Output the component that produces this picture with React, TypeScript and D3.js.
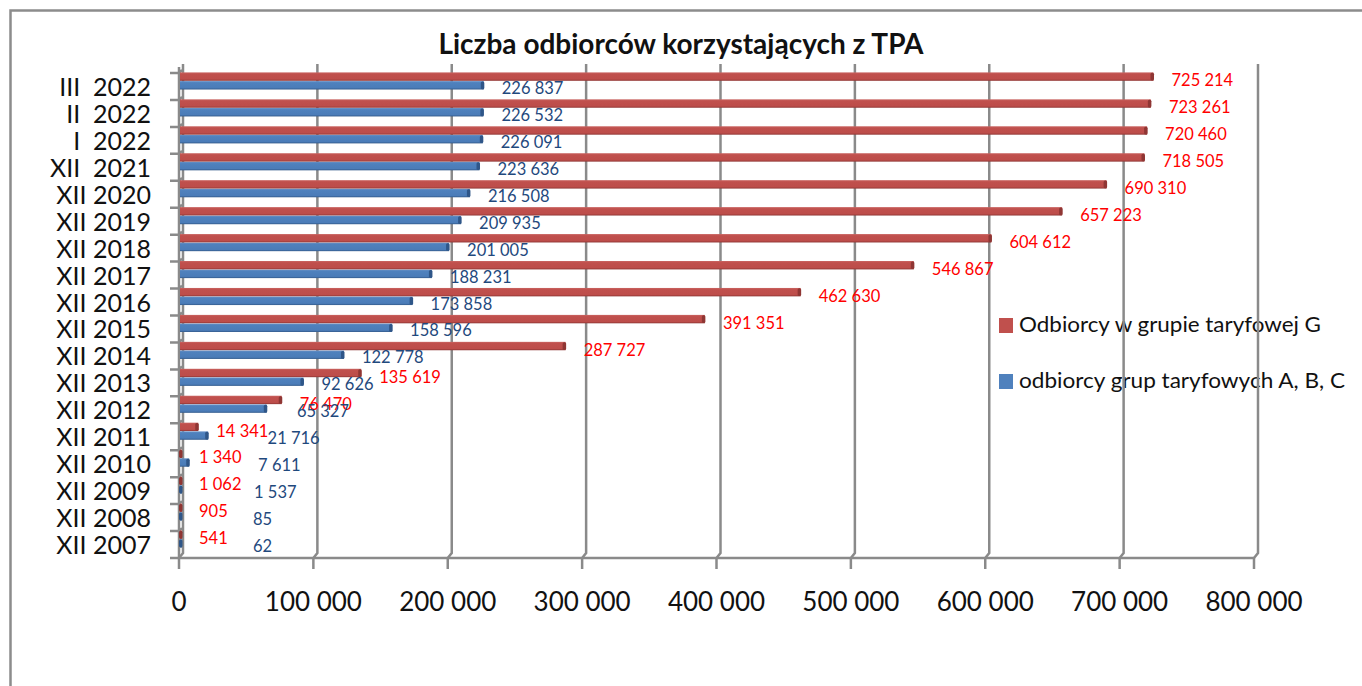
import * as d3 from 'd3';

const categories = [
  'III  2022', 'II  2022', 'I  2022', 'XII  2021', 'XII 2020', 'XII 2019',
  'XII 2018', 'XII 2017', 'XII 2016', 'XII 2015', 'XII 2014', 'XII 2013',
  'XII 2012', 'XII 2011', 'XII 2010', 'XII 2009', 'XII 2008', 'XII 2007',
];
const seriesG = [
  725214, 723261, 720460, 718505, 690310, 657223, 604612, 546867, 462630,
  391351, 287727, 135619, 76470, 14341, 1340, 1062, 905, 541,
];
const seriesABC = [
  226837, 226532, 226091, 223636, 216508, 209935, 201005, 188231, 173858,
  158596, 122778, 92626, 65327, 21716, 7611, 1537, 85, 62,
];
const seriesNames = ['Odbiorcy w grupie taryfowej G', 'odbiorcy grup taryfowych A, B, C'];
const xTicks = [0, 100000, 200000, 300000, 400000, 500000, 600000, 700000, 800000];

const W = 1362;
const H = 686;
const FONT = 'Lato, "Open Sans", sans-serif';
const GRID = '#8a8a8a';

const fmt = d3.formatLocale({ thousands: ' ', grouping: [3], decimal: ',', currency: ['', ''] }).format(',');

export default function App() {
  const x = d3.scaleLinear().domain([0, 800000]).range([179, 1254]);
  const y = d3.scaleBand<string>().domain(categories).range([70, 555]);
  const sub = d3.scaleBand<string>().domain(['G', 'ABC']).range([2.4, 19.8]);
  const x0 = x(0);
  const depth = 4; // 3D back-wall offset
  const backTop = 64;
  const floorY = 558;

  const rows = categories.map((c, i) => ({ c, g: seriesG[i], abc: seriesABC[i] }));

  return (
    <svg width={W} height={H} style={{ position: 'absolute', left: 0, top: 0, background: '#fff' }}>
      <defs>
        <linearGradient id="gRed" x1="0" y1="0" x2="0" y2="1">
          <stop offset="0" stopColor="#c96461" />
          <stop offset="0.2" stopColor="#c0504d" />
          <stop offset="0.8" stopColor="#bd4d4a" />
          <stop offset="1" stopColor="#8f3634" />
        </linearGradient>
        <linearGradient id="gBlue" x1="0" y1="0" x2="0" y2="1">
          <stop offset="0" stopColor="#6690c6" />
          <stop offset="0.2" stopColor="#4f81bd" />
          <stop offset="0.8" stopColor="#4b7cb8" />
          <stop offset="1" stopColor="#335a8a" />
        </linearGradient>
      </defs>

      {/* chart area border */}
      <rect x={10.5} y={10.5} width={1400} height={800} fill="none" stroke="#8c8c8c" strokeWidth={2.5} />

      {/* title */}
      <text x={681} y={54} textAnchor="middle" fontFamily={FONT} fontWeight="bold" fontSize={28} fill="#111">
        Liczba odbiorców korzystających z TPA
      </text>

      {/* legend (sits under the gridlines) */}
      {seriesNames.map((name, i) => (
        <g key={name} transform={`translate(999,${318 + i * 56})`}>
          <rect width={14} height={15} fill={i === 0 ? '#c0504d' : '#4f81bd'} />
          <text x={20} y={14} fontFamily={FONT} fontSize={20.5} fill="#111"
            textLength={i === 0 ? 302 : 326} lengthAdjust="spacingAndGlyphs">{name}</text>
        </g>
      ))}

      {/* back wall gridlines with floor kink */}
      {xTicks.map(t => (
        <path key={t}
          d={`M${x(t) + depth},${backTop} L${x(t) + depth},${floorY - 5} L${x(t)},${floorY}`}
          fill="none" stroke={GRID} strokeWidth={2.5} />
      ))}

      {/* x axis */}
      <line x1={170} x2={x(800000)} y1={floorY} y2={floorY} stroke={GRID} strokeWidth={2.5} />
      {xTicks.map(t => (
        <g key={t}>
          <line x1={x(t)} x2={x(t)} y1={floorY} y2={floorY + 11} stroke={GRID} strokeWidth={2.5} />
          <text x={x(t)} y={611} textAnchor="middle" fontFamily={FONT} fontSize={26} fill="#111">
            {fmt(t)}
          </text>
        </g>
      ))}

      {/* y axis */}
      <line x1={x0} x2={x0} y1={67} y2={floorY} stroke={GRID} strokeWidth={2.5} />
      {categories.map(c => (
        <path key={c} d={`M170,${y(c)! + 3} L${x0},${y(c)! + 3} L${x0 + 3},${y(c)!}`}
          fill="none" stroke={GRID} strokeWidth={2.5} />
      ))}
      {categories.map(c => (
        <text key={c} x={151} y={y(c)! + y.bandwidth() / 2 + 12.5} textAnchor="end"
          fontFamily={FONT} fontSize={25} fill="#111" style={{ whiteSpace: 'pre' }}>
          {c}
        </text>
      ))}

      {/* bars */}
      {rows.map(r => {
        const b = y(r.c)!;
        const h = sub.bandwidth();
        const yG = b + sub('G')!;
        const yA = b + sub('ABC')!;
        const xG = Math.max(x(r.g), x0 + 3);
        const xA = Math.max(x(r.abc), x0 + 3);
        return (
          <g key={r.c}>
            <rect x={x0 + 1} y={yG} width={xG - x0 - 1} height={h - 0.3} fill="url(#gRed)" />
            <rect x={xG - 3} y={yG + 0.4} width={3.5} height={h - 1} rx={1.5} fill="#8f3634" />
            <rect x={x0 + 1} y={yA} width={xA - x0 - 1} height={h - 0.3} fill="url(#gBlue)" />
            <rect x={xA - 3} y={yA + 0.4} width={3.5} height={h - 1} rx={1.5} fill="#2f5688" />
          </g>
        );
      })}

      {/* value labels */}
      {rows.map(r => {
        const b = y(r.c)!;
        const h = sub.bandwidth();
        const cG = b + sub('G')! + h / 2;
        const cA = b + sub('ABC')! + h / 2;
        const lxG = Math.max(x(r.g) + 18, x0 + 20);
        const lxA = Math.max(x(r.abc) + 18, x0 + 74 + (x(r.abc) - x0) * 0.5);
        return (
          <g key={r.c} fontFamily={FONT} fontSize={16.5}>
            <text x={lxG} y={cG + 9.5} fill="#ff0000">{fmt(r.g)}</text>
            <text x={lxA} y={cA + 8.5} fill="#1f497d">{fmt(r.abc)}</text>
          </g>
        );
      })}
    </svg>
  );
}
